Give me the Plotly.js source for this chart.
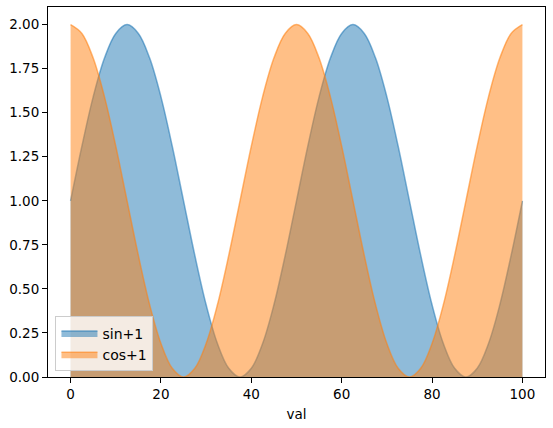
<!DOCTYPE html>
<html>
<head>
<meta charset="utf-8">
<script src="https://cdn.plot.ly/plotly-3.0.1.min.js"></script>
<style>html,body{margin:0;padding:0;background:#fff;}#chart{width:553px;height:428px;}</style>
</head>
<body>
<div id="chart"></div>
<script>
var val = [0, 2.5, 5, 7.5, 10, 12.5, 15, 17.5, 20, 22.5, 25, 27.5, 30, 32.5, 35, 37.5, 40, 42.5, 45, 47.5,
           50, 52.5, 55, 57.5, 60, 62.5, 65, 67.5, 70, 72.5, 75, 77.5, 80, 82.5, 85, 87.5, 90, 92.5, 95, 97.5, 100];
var sinPlus1 = [1.00, 1.31, 1.59, 1.81, 1.95, 2.00, 1.95, 1.81, 1.59, 1.31, 1.00, 0.69, 0.41, 0.19, 0.05, 0.00, 0.05, 0.19, 0.41, 0.69,
                1.00, 1.31, 1.59, 1.81, 1.95, 2.00, 1.95, 1.81, 1.59, 1.31, 1.00, 0.69, 0.41, 0.19, 0.05, 0.00, 0.05, 0.19, 0.41, 0.69, 1.00];
var cosPlus1 = [2.00, 1.95, 1.81, 1.59, 1.31, 1.00, 0.69, 0.41, 0.19, 0.05, 0.00, 0.05, 0.19, 0.41, 0.69, 1.00, 1.31, 1.59, 1.81, 1.95,
                2.00, 1.95, 1.81, 1.59, 1.31, 1.00, 0.69, 0.41, 0.19, 0.05, 0.00, 0.05, 0.19, 0.41, 0.69, 1.00, 1.31, 1.59, 1.81, 1.95, 2.00];
var seriesNames = ['sin+1', 'cos+1'];
var xTicks = [0, 20, 40, 60, 80, 100];
var yTicks = [0, 0.25, 0.5, 0.75, 1.0, 1.25, 1.5, 1.75, 2.0];

var traces = [
  {x: val, y: sinPlus1, name: seriesNames[0], type: 'scatter', mode: 'lines',
   line: {color: 'rgba(31,119,180,0.55)', width: 1.5, shape: 'spline', smoothing: 1},
   fill: 'tozeroy', fillcolor: 'rgba(31,119,180,0.5)'},
  {x: val, y: cosPlus1, name: seriesNames[1], type: 'scatter', mode: 'lines',
   line: {color: 'rgba(255,127,14,0.55)', width: 1.5, shape: 'spline', smoothing: 1},
   fill: 'tozeroy', fillcolor: 'rgba(255,127,14,0.5)'}
];

var axisFont = {family: 'DejaVu Sans', size: 13.5, color: '#000'};
var layout = {
  width: 553, height: 428,
  margin: {l: 48, r: 8, t: 7, b: 51},
  paper_bgcolor: '#fff', plot_bgcolor: '#fff',
  font: axisFont,
  showlegend: true,
  legend: {x: 0.015, y: 0.015, xanchor: 'left', yanchor: 'bottom',
           bgcolor: 'rgba(255,255,255,0.8)', bordercolor: '#cccccc', borderwidth: 1,
           font: {family: 'DejaVu Sans', size: 14, color: '#000'}, itemwidth: 36, tracegroupgap: 4},
  xaxis: {range: [-5, 105], tickvals: xTicks, ticks: 'outside', ticklen: 5, tickcolor: '#000',
          showline: true, linecolor: '#000', linewidth: 1, mirror: true, showgrid: false, zeroline: false,
          title: {text: 'val', font: axisFont, standoff: 8}},
  yaxis: {range: [0, 2.1], tickvals: yTicks, tickformat: '.2f', ticks: 'outside', ticklen: 5, tickcolor: '#000',
          showline: true, linecolor: '#000', linewidth: 1, mirror: true, showgrid: false, zeroline: false}
};

Plotly.newPlot('chart', traces, layout, {displayModeBar: false, staticPlot: true});
</script>
</body>
</html>
